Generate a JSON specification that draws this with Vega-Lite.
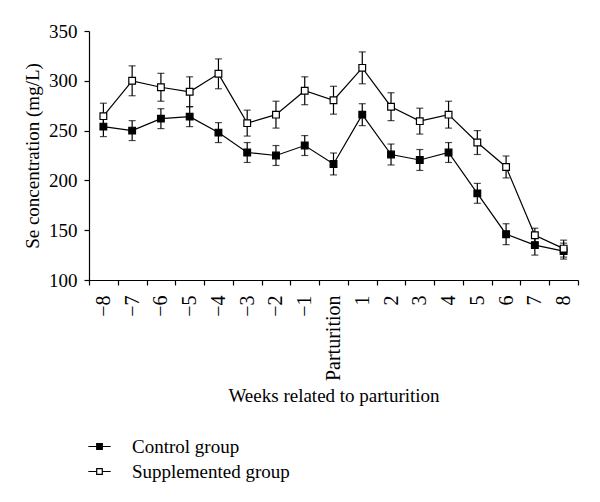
{
  "$schema": "https://vega.github.io/schema/vega-lite/v6.json",
  "autosize": {"type": "none"},
  "padding": {"left": 89, "top": 31, "right": 22, "bottom": 222},
  "width": 489,
  "height": 249,
  "background": "white",
  "config": {
    "view": {"stroke": null},
    "font": "Liberation Serif",
    "axis": {
      "grid": false,
      "domainColor": "black",
      "tickColor": "black",
      "labelColor": "black",
      "titleColor": "black",
      "labelFont": "Liberation Serif",
      "titleFont": "Liberation Serif",
      "labelFontSize": 19,
      "titleFontSize": 19,
      "titleFontWeight": "normal",
      "tickSize": 5,
      "domainWidth": 1.2,
      "tickWidth": 1.2
    }
  },
  "data": {
    "values": [
      {"week": "−8", "group": "Control group", "mean": 254, "lo": 244, "hi": 264},
      {"week": "−7", "group": "Control group", "mean": 250, "lo": 240, "hi": 260},
      {"week": "−6", "group": "Control group", "mean": 262, "lo": 252, "hi": 272},
      {"week": "−5", "group": "Control group", "mean": 264, "lo": 254, "hi": 274},
      {"week": "−4", "group": "Control group", "mean": 248, "lo": 238, "hi": 258},
      {"week": "−3", "group": "Control group", "mean": 228, "lo": 218, "hi": 238},
      {"week": "−2", "group": "Control group", "mean": 225, "lo": 215, "hi": 235},
      {"week": "−1", "group": "Control group", "mean": 235, "lo": 225, "hi": 245},
      {"week": "Parturition", "group": "Control group", "mean": 216.5, "lo": 205.5, "hi": 227.5},
      {"week": "1", "group": "Control group", "mean": 266, "lo": 255, "hi": 277},
      {"week": "2", "group": "Control group", "mean": 226, "lo": 215.5, "hi": 236.5},
      {"week": "3", "group": "Control group", "mean": 220.5, "lo": 210, "hi": 231},
      {"week": "4", "group": "Control group", "mean": 228, "lo": 218, "hi": 238},
      {"week": "5", "group": "Control group", "mean": 187, "lo": 177, "hi": 197},
      {"week": "6", "group": "Control group", "mean": 146, "lo": 135.5, "hi": 156.5},
      {"week": "7", "group": "Control group", "mean": 135, "lo": 125, "hi": 145},
      {"week": "8", "group": "Control group", "mean": 129, "lo": 121, "hi": 137},
      {"week": "−8", "group": "Supplemented group", "mean": 264.5, "lo": 251.5, "hi": 277.5},
      {"week": "−7", "group": "Supplemented group", "mean": 300, "lo": 285, "hi": 315},
      {"week": "−6", "group": "Supplemented group", "mean": 293.5, "lo": 279.5, "hi": 307.5},
      {"week": "−5", "group": "Supplemented group", "mean": 289, "lo": 274, "hi": 304},
      {"week": "−4", "group": "Supplemented group", "mean": 307, "lo": 292, "hi": 322},
      {"week": "−3", "group": "Supplemented group", "mean": 257.5, "lo": 244.5, "hi": 270.5},
      {"week": "−2", "group": "Supplemented group", "mean": 266, "lo": 252.5, "hi": 279.5},
      {"week": "−1", "group": "Supplemented group", "mean": 290, "lo": 276, "hi": 304},
      {"week": "Parturition", "group": "Supplemented group", "mean": 280.5, "lo": 266.5, "hi": 294.5},
      {"week": "1", "group": "Supplemented group", "mean": 313, "lo": 297, "hi": 329},
      {"week": "2", "group": "Supplemented group", "mean": 274, "lo": 260, "hi": 288},
      {"week": "3", "group": "Supplemented group", "mean": 259.5, "lo": 246.5, "hi": 272.5},
      {"week": "4", "group": "Supplemented group", "mean": 266, "lo": 252.5, "hi": 279.5},
      {"week": "5", "group": "Supplemented group", "mean": 238, "lo": 226, "hi": 250},
      {"week": "6", "group": "Supplemented group", "mean": 213.5, "lo": 202.5, "hi": 224.5},
      {"week": "7", "group": "Supplemented group", "mean": 145, "lo": 138, "hi": 152},
      {"week": "8", "group": "Supplemented group", "mean": 131.5, "lo": 123, "hi": 140}
    ]
  },
  "encoding": {
    "x": {
      "field": "week",
      "type": "ordinal",
      "sort": ["−8", "−7", "−6", "−5", "−4", "−3", "−2", "−1", "Parturition", "1", "2", "3", "4", "5", "6", "7", "8"],
      "scale": {"type": "band", "paddingInner": 0, "paddingOuter": 0},
      "axis": {
        "title": "Weeks related to parturition",
        "labelAngle": -90,
        "labelFontSize": 20,
        "tickBand": "extent",
        "labelPadding": 10,
        "titlePadding": 6
      }
    }
  },
  "layer": [
    {
      "mark": {"type": "rule", "color": "black", "strokeWidth": 1.2},
      "encoding": {
        "y": {"field": "lo", "type": "quantitative"},
        "y2": {"field": "hi"}
      }
    },
    {
      "mark": {"type": "tick", "color": "black", "size": 7, "thickness": 1.2, "orient": "horizontal"},
      "encoding": {"y": {"field": "lo", "type": "quantitative"}}
    },
    {
      "mark": {"type": "tick", "color": "black", "size": 7, "thickness": 1.2, "orient": "horizontal"},
      "encoding": {"y": {"field": "hi", "type": "quantitative"}}
    },
    {
      "mark": {"type": "line", "color": "black", "strokeWidth": 1.2},
      "encoding": {
        "y": {"field": "mean", "type": "quantitative"},
        "detail": {"field": "group"}
      }
    },
    {
      "mark": {"type": "point", "shape": "square", "filled": true, "size": 45, "stroke": "black", "strokeWidth": 1.2, "opacity": 1},
      "encoding": {
        "y": {
          "field": "mean",
          "type": "quantitative",
          "scale": {"domain": [100, 350], "nice": false, "zero": false},
          "axis": {"title": "Se concentration (mg/L)", "values": [100, 150, 200, 250, 300, 350], "labelPadding": 7, "titlePadding": 6}
        },
        "fill": {
          "field": "group",
          "type": "nominal",
          "scale": {"domain": ["Control group", "Supplemented group"], "range": ["black", "white"]},
          "legend": {
            "title": null,
            "orient": "none",
            "legendX": 1,
            "legendY": 406,
            "direction": "vertical",
            "padding": 0,
            "symbolType": "M-3.19,0H-0.8M0.8,0H3.19M-0.8,-0.8H0.8V0.8H-0.8Z",
            "symbolSize": 49,
            "symbolStrokeColor": "black",
            "symbolStrokeWidth": 1.2,
            "symbolOpacity": 1,
            "labelFont": "Liberation Serif",
            "labelFontSize": 19,
            "labelColor": "black",
            "labelOffset": 23,
            "rowPadding": 5,
            "labelLimit": 300,
            "encode": {
              "symbols": {"update": {"shape": {"value": "M-3.19,0H-0.8M0.8,0H3.19M-0.8,-0.8H0.8V0.8H-0.8Z"}, "stroke": {"value": "black"}, "opacity": {"value": 1}}}
            }
          }
        }
      }
    }
  ]
}
